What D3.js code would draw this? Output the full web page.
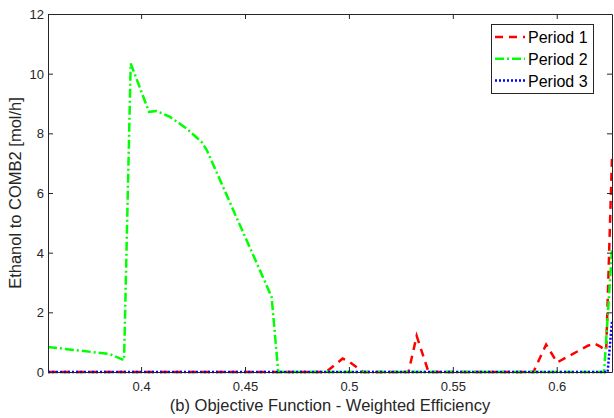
<!DOCTYPE html>
<html>
<head>
<meta charset="utf-8">
<script src="https://cdn.jsdelivr.net/npm/d3@7"></script>
<style>
  html, body { margin: 0; padding: 0; background: #fff; }
  svg { display: block; font-family: "Liberation Sans", Arial, sans-serif; }
</style>
</head>
<body>
<svg id="chart" width="614" height="418"></svg>
<script>
// Weighted efficiency (x) vs. ethanol flow to COMB2 (y), one series per period
const xDomain = [0.3552, 0.6266];
const yDomain = [0, 12];
const xTicks = [0.4, 0.45, 0.5, 0.55, 0.6];
const yTicks = [0, 2, 4, 6, 8, 10, 12];

const period1X = [0.3552, 0.4890, 0.4970, 0.5000, 0.5069, 0.5287, 0.5326, 0.5383, 0.5888, 0.5949, 0.6002, 0.6150, 0.6180, 0.6210, 0.6238, 0.6266];
const period1Y = [0, 0, 0.45, 0.35, 0, 0, 1.21, 0, 0, 0.92, 0.32, 0.88, 0.96, 0.85, 0.72, 7.2];

const period2X = [0.3552, 0.3850, 0.3918, 0.3950, 0.4038, 0.4075, 0.4139, 0.4219, 0.4291, 0.4316, 0.4628, 0.4660, 0.6228, 0.6266];
const period2Y = [0.84, 0.60, 0.40, 10.34, 8.72, 8.75, 8.55, 8.16, 7.71, 7.44, 2.52, 0, 0, 4.1];

const period3X = [0.3552, 0.6245, 0.6266];
const period3Y = [0, 0, 1.7];

const seriesNames = ["Period 1", "Period 2", "Period 3"];
const xLabel = "(b) Objective Function - Weighted Efficiency";
const yLabel = "Ethanol to COMB2 [mol/h]";

const svg = d3.select("#chart");
const m = { left: 48, right: 612, top: 14, bottom: 372 };
const axisColor = "#262626";

const x = d3.scaleLinear().domain(xDomain).range([m.left, m.right]);
const y = d3.scaleLinear().domain(yDomain).range([m.bottom, m.top]);

svg.append("defs").append("clipPath").attr("id", "plotClip")
  .append("rect")
  .attr("x", m.left).attr("y", m.top - 2)
  .attr("width", m.right - m.left + 1.5).attr("height", m.bottom - m.top + 4);

const series = [
  { name: seriesNames[0], xs: period1X, ys: period1Y, color: "#ff0000", dash: "8,6" },
  { name: seriesNames[1], xs: period2X, ys: period2Y, color: "#00ff00", dash: "9,3,2,3" },
  { name: seriesNames[2], xs: period3X, ys: period3Y, color: "#0000ff", dash: "2,2" }
];

const line = d3.line().x(d => x(d[0])).y(d => y(d[1]));

const plot = svg.append("g").attr("clip-path", "url(#plotClip)");
series.forEach(s => {
  plot.append("path")
    .datum(d3.zip(s.xs, s.ys))
    .attr("d", line)
    .attr("fill", "none")
    .attr("stroke", s.color)
    .attr("stroke-width", 2.5)
    .attr("stroke-dasharray", s.dash);
});

// axes with inward ticks on all four sides
const fmtX = d => String(d);
const axBottom = svg.append("g").attr("transform", `translate(0,${m.bottom})`)
  .call(d3.axisBottom(x).tickValues(xTicks).tickFormat(fmtX).tickSizeInner(-5).tickSizeOuter(0).tickPadding(10));
const axTop = svg.append("g").attr("transform", `translate(0,${m.top})`)
  .call(d3.axisTop(x).tickValues(xTicks).tickFormat("").tickSizeInner(-5).tickSizeOuter(0));
const axLeft = svg.append("g").attr("transform", `translate(${m.left},0)`)
  .call(d3.axisLeft(y).tickValues(yTicks).tickFormat(d3.format("d")).tickSizeInner(-5).tickSizeOuter(0).tickPadding(4));
const axRight = svg.append("g").attr("transform", `translate(${m.right},0)`)
  .call(d3.axisRight(y).tickValues(yTicks).tickFormat("").tickSizeInner(-5).tickSizeOuter(0));

[axBottom, axTop, axLeft, axRight].forEach(g => {
  g.select(".domain").attr("stroke", axisColor).attr("stroke-width", 1);
  g.selectAll(".tick line").attr("stroke", axisColor).attr("stroke-width", 1);
  g.selectAll(".tick text").attr("fill", axisColor).attr("font-size", 13)
    .attr("font-family", "Liberation Sans, Arial, sans-serif");
});
axLeft.selectAll(".tick text").attr("dy", "0.35em");
axBottom.selectAll(".tick text").attr("dy", "0.71em");

// axis titles
svg.append("text")
  .attr("x", (m.left + m.right) / 2).attr("y", 411)
  .attr("text-anchor", "middle").attr("font-size", 16.5).attr("fill", axisColor)
  .text(xLabel);
svg.append("text")
  .attr("transform", `translate(21,${(m.top + m.bottom) / 2}) rotate(-90)`)
  .attr("text-anchor", "middle").attr("font-size", 16.5).attr("fill", axisColor)
  .text(yLabel);

// legend
const lg = svg.append("g");
lg.append("rect")
  .attr("x", 491.5).attr("y", 24.5).attr("width", 102).attr("height", 69)
  .attr("fill", "#fff").attr("stroke", axisColor).attr("stroke-width", 1);
series.forEach((s, i) => {
  const ly = 37 + i * 21.7;
  lg.append("line")
    .attr("x1", 495).attr("x2", 525).attr("y1", ly).attr("y2", ly)
    .attr("stroke", s.color).attr("stroke-width", 2.5).attr("stroke-dasharray", s.dash);
  lg.append("text")
    .attr("x", 528).attr("y", ly + 6.3)
    .attr("font-size", 16).attr("fill", "#000")
    .text(s.name);
});
</script>
</body>
</html>
